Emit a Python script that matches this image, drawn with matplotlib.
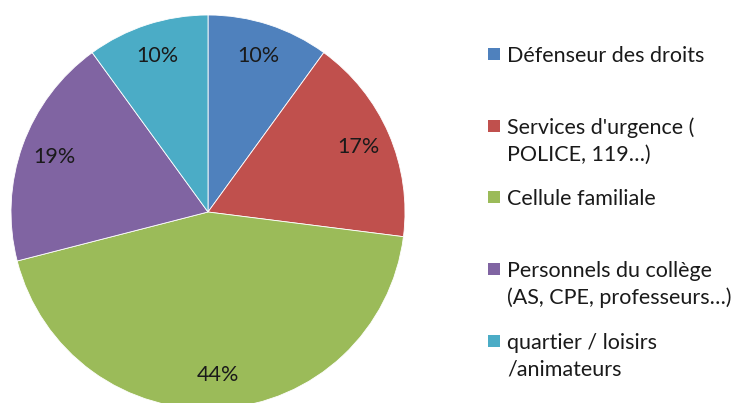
import matplotlib
matplotlib.use("Agg")
import matplotlib.pyplot as plt
from matplotlib.patches import Rectangle

categories = ["Défenseur des droits", "Services d'urgence (\nPOLICE, 119…)", "Cellule familiale",
              "Personnels du collège\n(AS, CPE, professeurs…)", "quartier / loisirs\n/animateurs"]
values = [10, 17, 44, 19, 10]
colors = ["#4F81BD", "#C0504D", "#9BBB59", "#8064A2", "#4BACC6"]
legend_y_px = [54, 126, 197, 269, 341]

W, H = 736, 403
plt.rcParams['font.family'] = ['Lato', 'DejaVu Sans']
fig = plt.figure(figsize=(W / 100, H / 100), dpi=100)
cx, cy, r = 208, 212, 197
ax = fig.add_axes([(cx - r) / W, 1 - (cy + r) / H, 2 * r / W, 2 * r / H])
ax.pie(values, colors=colors, startangle=90, counterclock=False, radius=1,
       autopct=lambda p: f"{p:.0f}%", pctdistance=0.83,
       wedgeprops=dict(edgecolor="white", linewidth=0.6),
       textprops=dict(fontsize=15.5, color="#1a1a1a"))
ax.set_xlim(-1, 1)
ax.set_ylim(-1, 1)
ax.set_aspect('auto')
ax.axis('off')

line_px = 27
for lab, col, yp in zip(categories, colors, legend_y_px):
    fig.patches.append(Rectangle((488 / W, 1 - (yp + 6) / H), 12 / W, 12 / H,
                                 transform=fig.transFigure, facecolor=col, edgecolor='none'))
    for i, line in enumerate(lab.split("\n")):
        fig.text(507 / W, 1 - (yp + i * line_px) / H, line, fontsize=15.5, color="#1a1a1a",
                 va='center_baseline', ha='left')

fig.savefig("out.png", dpi=100)
